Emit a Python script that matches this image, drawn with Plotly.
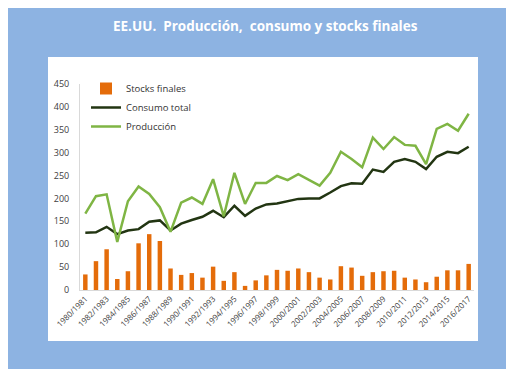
import plotly.graph_objects as go

seasons = [f"{y}/{y+1}" for y in range(1980, 2017)]

stocks = [34, 63, 89, 24, 41, 102, 122, 107, 47, 33, 37, 27, 51, 20, 39, 9, 21, 32,
          44, 42, 47, 39, 27, 23, 52, 49, 31, 39, 41, 42, 27, 23, 17, 29, 43, 43, 57]
consumo = [125, 126, 138, 122, 130, 133, 149, 152, 130, 145, 153, 160, 173, 159, 184,
           162, 178, 187, 189, 194, 199, 200, 200, 213, 227, 233, 232, 263, 258, 280,
           286, 280, 264, 291, 302, 299, 313]
produccion = [167, 205, 209, 105, 194, 226, 210, 181, 127, 191, 202, 188, 242, 161, 256,
              188, 234, 234, 249, 240, 253, 240, 228, 256, 302, 286, 268, 333, 308, 334,
              317, 315, 275, 352, 363, 348, 385]

ytick_vals = list(range(0, 451, 50))
xtick_vals = seasons[::2]

title_text = "EE.UU.  Producción,  consumo y stocks finales"

fig = go.Figure()
fig.add_trace(go.Bar(x=seasons, y=stocks, name="Stocks finales",
                     marker=dict(color="#e46c0a", line=dict(width=0))))
fig.add_trace(go.Scatter(x=seasons, y=consumo, name="Consumo total", mode="lines",
                         line=dict(color="#223512", width=2.5)))
fig.add_trace(go.Scatter(x=seasons, y=produccion, name="Producción", mode="lines",
                         line=dict(color="#7fb544", width=2.5)))

W, H = 514, 369
L, R, T, B = 72, 466, 76, 282
pw, ph = R - L, B - T

def px(x):
    return (x - L) / pw

def py(y):
    return (B - y) / ph

fig.update_layout(
    width=W, height=H,
    margin=dict(l=L, r=W - R, t=T, b=H - B, pad=0),
    paper_bgcolor="#8db3e2",
    plot_bgcolor="white",
    bargap=0.58,
    showlegend=True,
    font=dict(family="Open Sans, Liberation Sans, sans-serif", color="#404040"),
    legend=dict(x=px(78), y=py(66), xanchor="left", yanchor="top",
                bgcolor="rgba(0,0,0,0)", font=dict(size=9.5, color="#333333"),
                tracegroupgap=0, itemwidth=30),
    shapes=[dict(type="rect", xref="paper", yref="paper",
                 x0=px(40), x1=px(470), y0=py(333), y1=py(49),
                 fillcolor="white", line=dict(width=0), layer="below")],
    annotations=[dict(text=f"<b>{title_text}</b>", xref="paper", yref="paper",
                      x=px(257), y=py(18), xanchor="center", yanchor="middle",
                      showarrow=False, font=dict(size=13.5, color="white",
                                                 family="Open Sans, sans-serif"))],
    xaxis=dict(type="category", tickmode="array", tickvals=xtick_vals,
               ticktext=xtick_vals, tickangle=-45, tickfont=dict(size=8, color="#404040"),
               showline=True, linecolor="#d9d9d9", linewidth=1, showgrid=False,
               ticks="", zeroline=False, fixedrange=True),
    yaxis=dict(range=[0, 450], tickmode="array", tickvals=ytick_vals,
               tickfont=dict(size=9, color="#404040"), showline=True,
               linecolor="#d9d9d9", linewidth=1, showgrid=False, ticks="",
               zeroline=False, ticklabelstandoff=8),
)

fig.write_html("out.html")
